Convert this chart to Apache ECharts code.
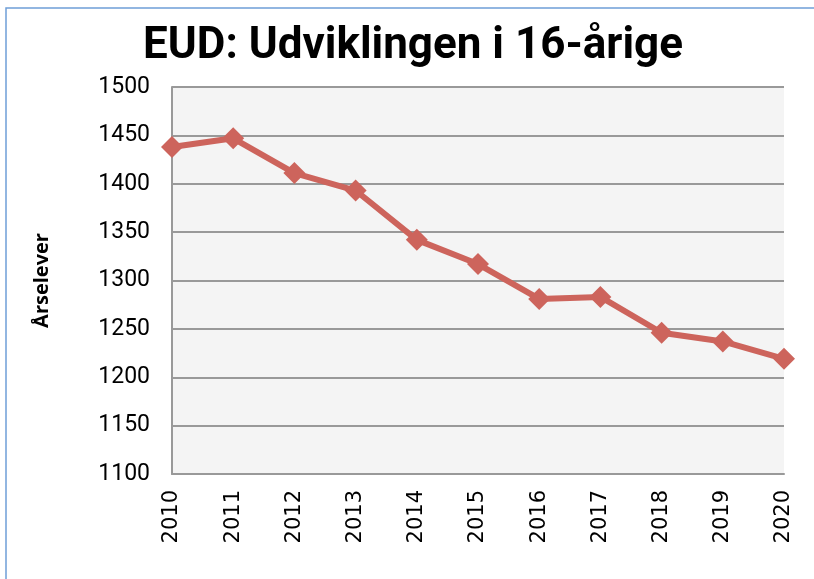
<!DOCTYPE html>
<html>
<head>
<meta charset="utf-8">
<script src="https://cdn.jsdelivr.net/npm/echarts@6/dist/echarts.min.js"></script>
<style>
  html, body { margin: 0; padding: 0; background: #fff; }
  #main { width: 814px; height: 579px; }
</style>
</head>
<body>
<div id="main"></div>
<script>
// data
var years = ['2010', '2011', '2012', '2013', '2014', '2015', '2016', '2017', '2018', '2019', '2020'];
var aarselever = [1438, 1447, 1411, 1393, 1342, 1317, 1281, 1283, 1246, 1237, 1219];
var yTicks = [1100, 1150, 1200, 1250, 1300, 1350, 1400, 1450, 1500];

var chart = echarts.init(document.getElementById('main'));
chart.setOption({
  animation: false,
  backgroundColor: '#fff',
  title: {
    text: 'EUD: Udviklingen i 16-årige',
    left: 408,
    top: 20,
    textAlign: 'center',
    textStyle: { fontFamily: 'Roboto', fontWeight: 'bold', fontSize: 44, color: '#000' }
  },
  graphic: [{
    type: 'rect',
    shape: { x: 6, y: 8, width: 1000, height: 800 },
    style: { fill: 'none', stroke: '#6f9fd8', lineWidth: 1.5 }
  }],
  grid: { left: 172, right: 30, top: 87, bottom: 105, backgroundColor: '#f4f4f4', show: true, borderWidth: 0 },
  xAxis: {
    type: 'category',
    data: years,
    boundaryGap: false,
    axisLine: { lineStyle: { color: '#999', width: 2 } },
    axisTick: { show: false },
    axisLabel: { rotate: 90, fontFamily: 'DejaVu Sans', fontSize: 21, color: '#000', margin: 16 }
  },
  yAxis: {
    type: 'value',
    min: yTicks[0],
    max: yTicks[yTicks.length - 1],
    interval: 50,
    name: 'Årselever',
    nameLocation: 'middle',
    nameGap: 120,
    nameTextStyle: { fontFamily: 'Open Sans', fontWeight: 'bold', fontSize: 20, color: '#000' },
    axisLine: { show: true, lineStyle: { color: '#999', width: 2 } },
    axisTick: { show: false },
    splitLine: { lineStyle: { color: '#999', width: 2 } },
    axisLabel: {
      fontFamily: 'Roboto', fontSize: 23, color: '#000', margin: 22,
      formatter: function (v) { return String(v); }
    }
  },
  series: [{
    type: 'line',
    data: aarselever,
    symbol: 'diamond',
    symbolSize: 22,
    lineStyle: { color: '#cd645c', width: 6 },
    itemStyle: { color: '#cd645c' }
  }]
});
</script>
</body>
</html>
